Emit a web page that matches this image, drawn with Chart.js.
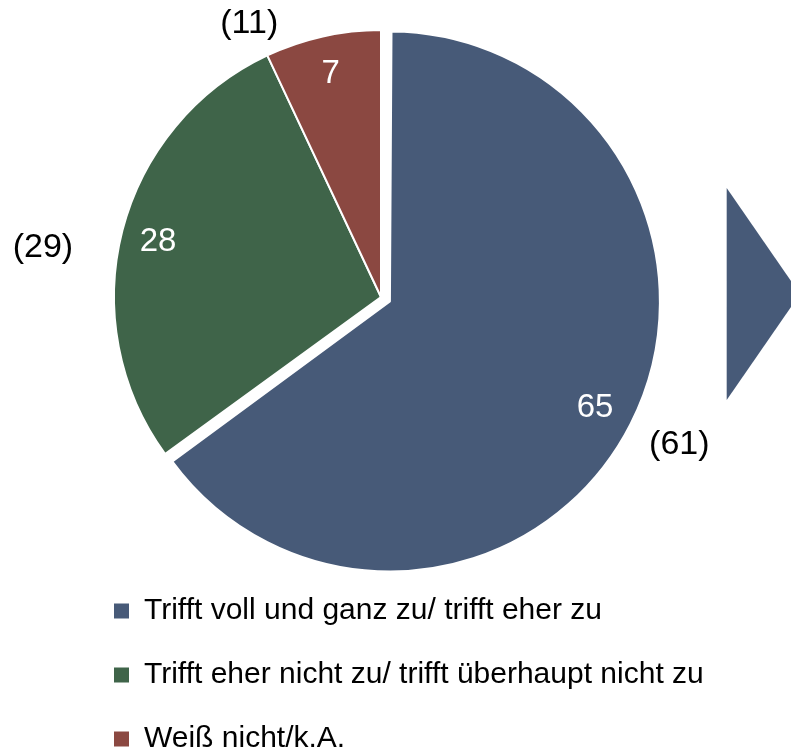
<!DOCTYPE html>
<html><head><meta charset="utf-8">
<script src="https://cdn.jsdelivr.net/npm/chart.js@4.4.1/dist/chart.umd.min.js"></script>
<style>html,body{margin:0;padding:0;background:#fff;overflow:hidden}#wrap{width:791px;height:751px;position:relative}</style>
</head><body><div id="wrap"><canvas id="c" width="791" height="751"></canvas></div>
<script>
// ---- data ----
const categories = ['Trifft voll und ganz zu/ trifft eher zu', 'Trifft eher nicht zu/ trifft überhaupt nicht zu', 'Weiß nicht/k.A.'];
const currentValues = [65, 28, 7];
const previousValues = [61, 29, 11];
const sliceColors = ['#475A78', '#3F6449', '#8B4841'];

// ---- style ----
const FONT = "'Liberation Sans', Arial, sans-serif";
const RADIUS = 267;
const sliceOffsets = [40, 0, 0];
const outerLabelStyle = [ {dAngle: -1, f: 1.206}, {dAngle: -5.7, f: 1.281}, {dAngle: -13, f: 1.142} ];
const TEXT_DY = 2;

Chart.defaults.font.family = FONT;

const adjustPlugin = {
  id: 'adjust',
  afterLayout(chart) {
    const l = chart.legend;
    l.left = 80; l.right = chart.width; l.width = l.right - l.left;
    l.top = 562; l.bottom = chart.height + 40; l.height = l.bottom - l.top;
  },
  afterDatasetsUpdate(chart) {
    const arc = chart.getDatasetMeta(0).data[0];
    const off = (arc.options && arc.options.offset || 0) / 4;
    arc.outerRadius = RADIUS + 3 - off;
  }
};

const labelPlugin = {
  id: 'sliceLabels',
  afterDatasetsDraw(chart) {
    const ctx = chart.ctx;
    const meta = chart.getDatasetMeta(0);
    ctx.save();
    ctx.textAlign = 'center';
    ctx.textBaseline = 'middle';
    meta.data.forEach((arc, i) => {
      const off = (arc.options.offset || 0) / 4;
      const mid = (arc.startAngle + arc.endAngle) / 2;
      const cx = arc.x + Math.cos(mid) * off;
      const cy = arc.y + Math.sin(mid) * off;
      // inner value
      ctx.font = '33px ' + FONT;
      ctx.fillStyle = '#ffffff';
      const ri = RADIUS * 0.862;
      ctx.fillText(String(currentValues[i]), cx + Math.cos(mid) * ri, cy + Math.sin(mid) * ri + TEXT_DY);
      // previous value outside
      const s = outerLabelStyle[i];
      const a = mid + s.dAngle * Math.PI / 180;
      const ro = RADIUS * s.f;
      ctx.font = '34px ' + FONT;
      ctx.fillStyle = '#000000';
      ctx.fillText('(' + previousValues[i] + ')', cx + Math.cos(a) * ro, cy + Math.sin(a) * ro + TEXT_DY);
    });
    // arrow decoration
    const ox = meta.data[0].x, oy = meta.data[0].y;
    ctx.fillStyle = sliceColors[0];
    ctx.beginPath();
    ctx.moveTo(ox + 345.7, oy - 109);
    ctx.lineTo(ox + 419, oy - 3);
    ctx.lineTo(ox + 345.7, oy + 103);
    ctx.closePath();
    ctx.fill();
    ctx.restore();
  }
};

new Chart(document.getElementById('c'), {
  type: 'pie',
  data: {
    labels: categories,
    datasets: [{
      data: currentValues,
      backgroundColor: sliceColors,
      borderColor: '#ffffff',
      borderWidth: 2,
      offset: sliceOffsets,
      hoverOffset: 0
    }]
  },
  options: {
    responsive: false,
    animation: false,
    radius: RADIUS,
    layout: { padding: { top: 45, left: 0, right: 29, bottom: 0 } },
    plugins: {
      tooltip: { enabled: false },
      legend: {
        position: 'bottom',
        align: 'start',
        labels: {
          boxWidth: 15,
          boxHeight: 15,
          padding: 34,
          color: '#000000',
          font: { size: 30, family: FONT },
          generateLabels(chart) {
            const items = Chart.overrides.pie.plugins.legend.labels.generateLabels(chart);
            items.forEach(it => { it.lineWidth = 0; it.strokeStyle = it.fillStyle; });
            return items;
          }
        }
      }
    }
  },
  plugins: [adjustPlugin, labelPlugin]
});
</script></body></html>
